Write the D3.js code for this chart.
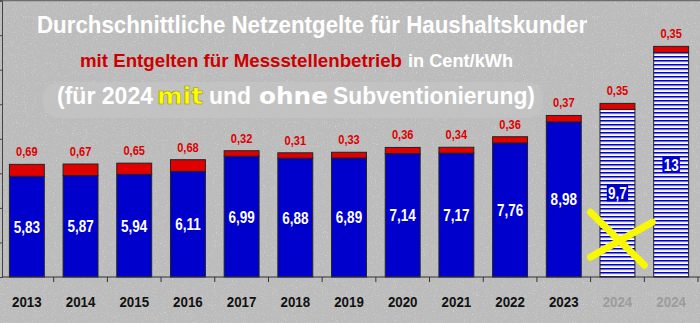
<!DOCTYPE html>
<html>
<head>
<meta charset="utf-8">
<script src="https://cdn.jsdelivr.net/npm/d3@7"></script>
<style>
  html, body { margin: 0; padding: 0; background: #bcbcbc; }
  svg { display: block; font-family: "Liberation Sans", Arial, sans-serif; font-weight: bold; }
</style>
</head>
<body>
<div id="chart"></div>
<script>
// categories (two bars for 2024: with and without subsidy)
var keys = ["2013", "2014", "2015", "2016", "2017", "2018", "2019", "2020", "2021", "2022", "2023", "2024 mit", "2024 ohne"];
var tickLabels = ["2013", "2014", "2015", "2016", "2017", "2018", "2019", "2020", "2021", "2022", "2023", "2024", "2024"];

// net fees (blue) and metering fees (red), Cent/kWh
var netzentgelt = [5.83, 5.87, 5.94, 6.11, 6.99, 6.88, 6.89, 7.14, 7.17, 7.76, 8.98, 9.7, 13];
var messstelle = [0.69, 0.67, 0.65, 0.68, 0.32, 0.31, 0.33, 0.36, 0.34, 0.36, 0.37, 0.35, 0.35];

var yTicks = [0, 2, 4, 6, 8, 10, 12, 14, 16];

var W = 700, H = 323;
var axisY = 277;
var narrow = 0.82; // condensed look of the labels

var blue = "#0000cd", red = "#e00000";

var data = keys.map(function(k, i) {
  return { key: k, label: tickLabels[i], netz: netzentgelt[i], mess: messstelle[i], planned: k.indexOf("2024") == 0 };
});

function fmt(v) { return String(v).replace(".", ","); }

var svg = d3.select("#chart").append("svg")
  .attr("width", W)
  .attr("height", H);

var defs = svg.append("defs");

// grainy gray background
var noise = defs.append("filter").attr("id", "noise").attr("x", 0).attr("y", 0).attr("width", 1).attr("height", 1);
noise.append("feTurbulence").attr("type", "fractalNoise").attr("baseFrequency", 0.9).attr("numOctaves", 2).attr("seed", 4);
noise.append("feColorMatrix").attr("type", "matrix")
  .attr("values", "0 0 0 0 1  0 0 0 0 1  0 0 0 0 1  0 0 0 3 -1.75");

// blue/white horizontal stripes for the 2024 bars
var hatch = defs.append("pattern").attr("id", "hatch")
  .attr("patternUnits", "userSpaceOnUse").attr("width", 8).attr("height", 4);
hatch.append("rect").attr("width", 8).attr("height", 4).attr("fill", "#ffffff");
hatch.append("rect").attr("y", 0).attr("width", 8).attr("height", 1.6).attr("fill", blue);
hatch.append("rect").attr("y", 1.6).attr("width", 8).attr("height", 0.6).attr("fill", "#8080e6");

defs.append("clipPath").attr("id", "titleClip")
  .append("rect").attr("x", 0).attr("y", 0).attr("width", 587).attr("height", 45);

svg.append("rect").attr("width", W).attr("height", H).attr("fill", "#bcbcbc");
svg.append("rect").attr("width", W).attr("height", H).attr("filter", "url(#noise)").attr("opacity", 0.4);

// frame line on top
svg.append("line").attr("x1", 0).attr("x2", W).attr("y1", 0.5).attr("y2", 0.5)
  .attr("stroke", "#6e6e6e").attr("stroke-width", 1.5);

var x = d3.scaleBand()
  .domain(keys)
  .range([0, 698])
  .paddingInner(0.35)
  .paddingOuter(0.175);

var y = d3.scaleLinear()
  .domain([0, 16])
  .range([axisY, 0.6]);

// left axis
svg.append("g")
  .attr("transform", "translate(2,0)")
  .call(d3.axisLeft(y).tickValues(yTicks).tickSize(3).tickFormat(""))
  .call(function(g) {
    g.selectAll("line").attr("stroke", "#444");
    g.select(".domain").attr("stroke", "#444");
  });

// lighter box behind third title line
svg.append("rect")
  .attr("x", 43).attr("y", 82).attr("width", 500).attr("height", 36).attr("rx", 16)
  .attr("fill", "#c4c4c4").attr("opacity", 0.7);

// titles
svg.append("text")
  .attr("clip-path", "url(#titleClip)")
  .attr("x", 37).attr("y", 33)
  .attr("font-size", 23)
  .attr("fill", "#ffffff")
  .attr("textLength", 555).attr("lengthAdjust", "spacingAndGlyphs")
  .text("Durchschnittliche Netzentgelte für Haushaltskunden");

svg.append("text")
  .attr("x", 80).attr("y", 67)
  .attr("font-size", 19)
  .attr("fill", "#cc0000")
  .attr("textLength", 322).attr("lengthAdjust", "spacingAndGlyphs")
  .text("mit Entgelten für Messstellenbetrieb");

svg.append("text")
  .attr("x", 408).attr("y", 67)
  .attr("font-size", 18)
  .attr("fill", "#ffffff")
  .attr("textLength", 105).attr("lengthAdjust", "spacingAndGlyphs")
  .text("in Cent/kWh");

var line3 = [
  { t: "(für 2024", x: 57, w: 96, fill: "#ffffff", font: null },
  { t: "mit", x: 157, w: 46, fill: "#ffff00", font: "DejaVu Sans" },
  { t: "und", x: 209, w: 42, fill: "#ffffff", font: null },
  { t: "ohne", x: 259, w: 69, fill: "#ffffff", font: "DejaVu Sans" },
  { t: "Subventionierung)", x: 333, w: 202, fill: "#ffffff", font: null }
];
svg.selectAll(".line3")
  .data(line3)
  .enter()
  .append("text")
  .attr("class", "line3")
  .attr("x", function(d) { return d.x; })
  .attr("y", 104)
  .attr("font-size", 23)
  .attr("font-family", function(d) { return d.font; })
  .attr("fill", function(d) { return d.fill; })
  .attr("stroke", function(d) { return d.t == "mit" ? "#9a9a00" : null; })
  .attr("stroke-width", 0.6)
  .attr("textLength", function(d) { return d.w; })
  .attr("lengthAdjust", "spacingAndGlyphs")
  .text(function(d) { return d.t; });

// bars
var bars = svg.selectAll(".bar")
  .data(data)
  .enter()
  .append("g")
  .attr("class", "bar");

bars.append("rect")
  .attr("x", function(d) { return x(d.key); })
  .attr("y", function(d) { return y(d.netz); })
  .attr("width", x.bandwidth())
  .attr("height", function(d) { return y(0) - y(d.netz); })
  .attr("fill", function(d) { return d.planned ? "url(#hatch)" : blue; })
  .attr("stroke", "#222")
  .attr("stroke-width", 1);

bars.append("rect")
  .attr("x", function(d) { return x(d.key); })
  .attr("y", function(d) { return y(d.netz + d.mess); })
  .attr("width", x.bandwidth())
  .attr("height", function(d) { return y(d.netz) - y(d.netz + d.mess); })
  .attr("fill", red)
  .attr("stroke", "#222")
  .attr("stroke-width", 1);

// red value labels above the bars
bars.append("text")
  .attr("transform", function(d) {
    return "translate(" + (x(d.key) + x.bandwidth() / 2) + "," + (y(d.netz + d.mess) - 8) + ") scale(" + narrow + ",1)";
  })
  .attr("text-anchor", "middle")
  .attr("font-size", 13.5)
  .attr("fill", "#dd0000")
  .text(function(d) { return fmt(d.mess); });

// white value labels inside the blue part
var inner = bars.append("g")
  .attr("transform", function(d) {
    return "translate(" + (x(d.key) + x.bandwidth() / 2) + "," + ((y(d.netz) + y(0)) / 2) + ") scale(" + narrow + ",1)";
  });

inner.append("text")
  .attr("text-anchor", "middle")
  .attr("dy", "0.36em")
  .attr("font-size", 16.5)
  .attr("fill", "#ffffff")
  .text(function(d) { return fmt(d.netz); });

inner.filter(function(d) { return d.planned; })
  .insert("rect", "text")
  .each(function() {
    var bb = this.parentNode.querySelector("text").getBBox();
    d3.select(this)
      .attr("x", bb.x - 1.5).attr("y", bb.y + 1)
      .attr("width", bb.width + 3).attr("height", bb.height - 2)
      .attr("fill", blue);
  });

// x axis line and ticks at the category borders
svg.append("line")
  .attr("x1", 2).attr("x2", W).attr("y1", axisY).attr("y2", axisY)
  .attr("stroke", "#333").attr("stroke-width", 1);

svg.selectAll(".xtick")
  .data(keys.slice(1).concat(["end"]))
  .enter()
  .append("line")
  .attr("class", "xtick")
  .attr("x1", function(d, i) { return x.step() * (i + 1); })
  .attr("x2", function(d, i) { return x.step() * (i + 1); })
  .attr("y1", axisY)
  .attr("y2", axisY + 5)
  .attr("stroke", "#333");

svg.selectAll(".xlabel")
  .data(data)
  .enter()
  .append("text")
  .attr("class", "xlabel")
  .attr("transform", function(d) {
    return "translate(" + (x(d.key) + x.bandwidth() / 2) + ",307) scale(0.86,1)";
  })
  .attr("text-anchor", "middle")
  .attr("font-size", 15.5)
  .attr("fill", function(d) { return d.planned ? "#9c9c9c" : "#111"; })
  .text(function(d) { return d.label; });

// yellow cross over the subsidised 2024 bar
var cx = x("2024 mit") + x.bandwidth() / 2, cy = y(2.25);
svg.append("g")
  .attr("stroke", "#f8f800")
  .attr("stroke-width", 7)
  .attr("stroke-linecap", "round")
  .selectAll("line")
  .data([[-27, -26, 27, 27], [-27, 19, 35, -16]])
  .enter()
  .append("line")
  .attr("x1", function(d) { return cx + d[0]; })
  .attr("y1", function(d) { return cy + d[1]; })
  .attr("x2", function(d) { return cx + d[2]; })
  .attr("y2", function(d) { return cy + d[3]; });
</script>
</body>
</html>
